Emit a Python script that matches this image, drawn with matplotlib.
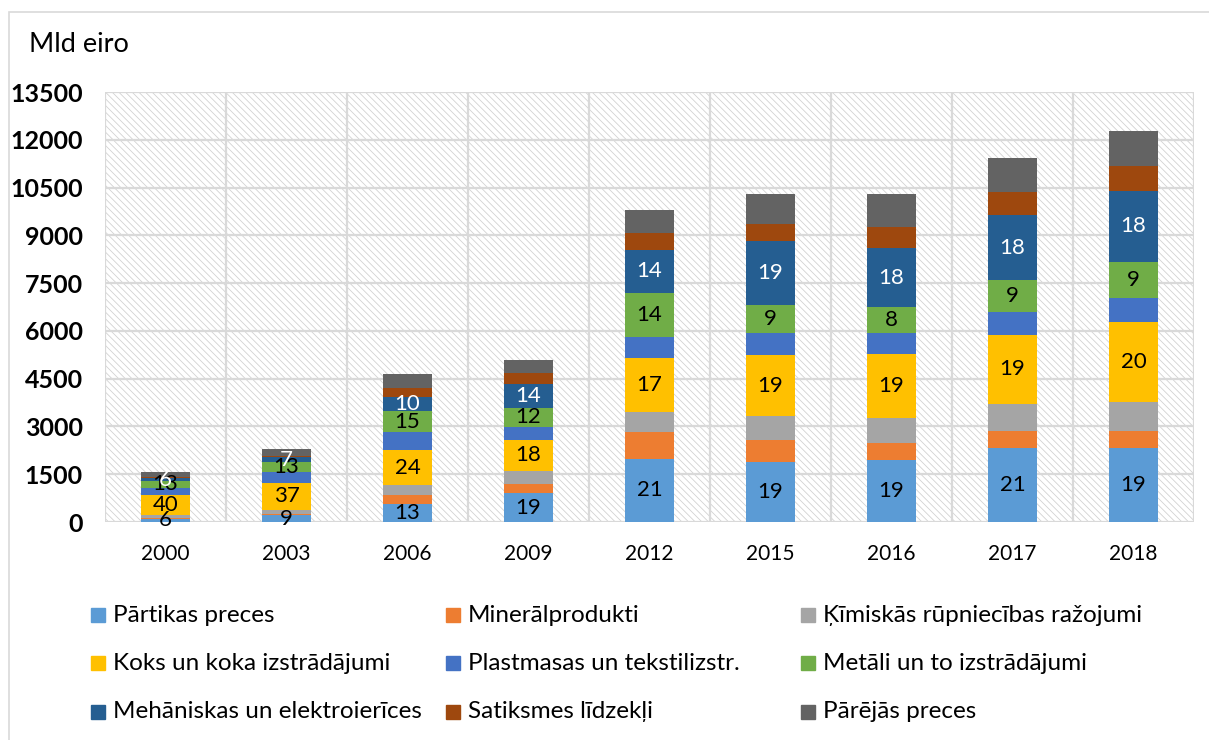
import matplotlib.pyplot as plt
import matplotlib.patches as mpatches
import numpy as np

plt.rcParams['font.family'] = ['Lato', 'DejaVu Sans']
plt.rcParams['hatch.linewidth'] = 0.6
plt.rcParams['hatch.color'] = '#d2d2d2'

years = ['2000', '2003', '2006', '2009', '2012', '2015', '2016', '2017', '2018']

categories = ['Pārtikas preces', 'Minerālprodukti', 'Ķīmiskās rūpniecības ražojumi',
              'Koks un koka izstrādājumi', 'Plastmasas un tekstilizstr.', 'Metāli un to izstrādājumi',
              'Mehāniskas un elektroierīces', 'Satiksmes līdzekļi', 'Pārējās preces']

colors = ['#5b9bd5', '#ed7d31', '#a5a5a5', '#ffc000', '#4472c4', '#70ad47',
          '#255e91', '#9e480e', '#636363']

# values, mld eiro
partika = [95, 205, 575, 906, 1978, 1875, 1950, 2313, 2313]
mineral = [45, 55, 259, 294, 844, 700, 519, 531, 553]
kimija = [85, 130, 313, 416, 646, 738, 794, 875, 906]
koks = [630, 850, 1125, 959, 1666, 1938, 2000, 2147, 2500]
plastmasa = [220, 330, 541, 394, 688, 688, 656, 719, 750]
metali = [205, 300, 678, 625, 1375, 888, 831, 1000, 1147]
mehanika = [95, 160, 447, 731, 1356, 2000, 1844, 2053, 2228]
satiksme = [40, 55, 281, 363, 519, 531, 656, 728, 791]
parejas = [165, 215, 419, 388, 731, 925, 1044, 1063, 1075]

series = [partika, mineral, kimija, koks, plastmasa, metali, mehanika, satiksme, parejas]

# percent labels shown in the bars
lbl_partika = [6, 9, 13, 19, 21, 19, 19, 21, 19]
lbl_koks = [40, 37, 24, 18, 17, 19, 19, 19, 20]
lbl_metali = [13, 13, 15, 12, 14, 9, 8, 9, 9]
lbl_mehanika = [6, 7, 10, 14, 14, 19, 18, 18, 18]
labels = {0: (lbl_partika, 'black'), 3: (lbl_koks, 'black'),
          5: (lbl_metali, 'black'), 6: (lbl_mehanika, 'white')}

fig = plt.figure(figsize=(12.09, 7.40), dpi=100)
ax = fig.add_axes([105 / 1209, 1 - 522 / 740, 1089 / 1209, 430 / 740])

# outer chart frame
fig.patches.append(mpatches.Rectangle((9 / 1209, -0.01), 1.2, 1 - 12 / 740 + 0.01,
                                      transform=fig.transFigure, fill=False,
                                      edgecolor='#d9d9d9', linewidth=1.2))

# hatched plot area
ax.add_patch(mpatches.Rectangle((0, 0), 1, 1, transform=ax.transAxes, facecolor='white',
                                hatch='\\\\\\\\\\', linewidth=0, zorder=0))

x = np.arange(len(years))
bottom = np.zeros(len(years))
for i, vals in enumerate(series):
    vals = np.array(vals, dtype=float)
    ax.bar(x, vals, 0.4, bottom=bottom, color=colors[i], zorder=3)
    if i in labels:
        txt, col = labels[i]
        for j in range(len(years)):
            ax.text(x[j], bottom[j] + vals[j] / 2, str(txt[j]), ha='center', va='center',
                    fontsize=16, color=col, zorder=4)
    bottom += vals

ax.set_xlim(-0.5, len(years) - 0.5)
ax.set_ylim(0, 13500)
ax.set_yticks(np.arange(0, 13501, 1500))
ax.set_xticks(x)
ax.set_xticklabels(years, fontsize=15)
ax.set_xticks(np.arange(-0.5, len(years), 1), minor=True)
for t in ax.get_yticklabels():
    t.set_fontweight('bold')
    t.set_fontsize(18)
ax.tick_params(axis='both', which='both', length=0)
ax.tick_params(axis='x', pad=16)
ax.tick_params(axis='y', pad=16)
ax.grid(axis='y', which='major', color='#d9d9d9', linewidth=1.6, zorder=1)
ax.grid(axis='x', which='minor', color='#d9d9d9', linewidth=1.6, zorder=1)
for s in ax.spines.values():
    s.set_visible(False)
ax.set_axisbelow(True)

fig.text(29 / 1209, 1 - 45 / 740, 'Mld eiro', fontsize=19.5, va='center', ha='left')

# legend, row-wise in three columns
col_x = [91, 446, 801]
row_y = [615, 663, 712]
for i, name in enumerate(categories):
    cx = col_x[i % 3]
    cy = row_y[i // 3]
    fig.patches.append(mpatches.Rectangle((cx / 1209, 1 - (cy + 7) / 740), 14 / 1209, 14 / 740,
                                          transform=fig.transFigure, color=colors[i]))
    fig.text((cx + 22) / 1209, 1 - cy / 740, name, fontsize=17.5, va='center', ha='left')

fig.savefig('out.png', dpi=100)
